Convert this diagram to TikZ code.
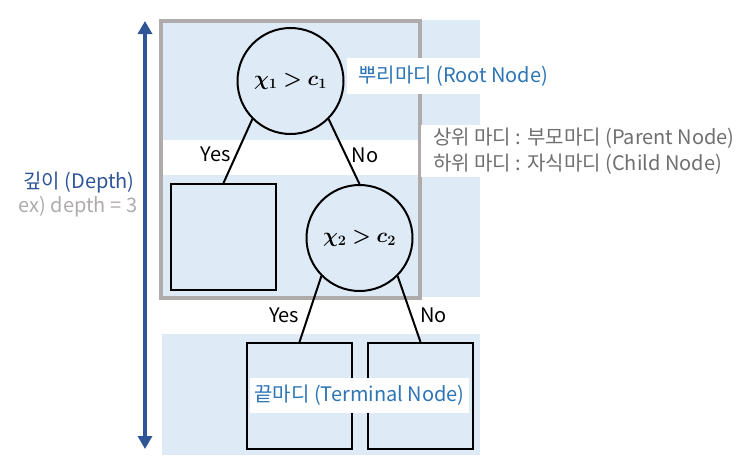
\documentclass[tikz,border=0pt]{standalone}
\usepackage{fontspec}
\setmainfont{Noto Sans CJK KR}
\usepackage{amsmath,bm}
\usetikzlibrary{positioning,arrows.meta}
\definecolor{bandblue}{HTML}{DEEBF7}
\definecolor{boxgray}{HTML}{AFABAB}
\definecolor{depthblue}{HTML}{2F5597}
\definecolor{rootblue}{HTML}{2E75B6}
\definecolor{notegray}{HTML}{6F6F6F}
\newcommand{\lblfont}{\fontsize{20}{26}\selectfont}
\tikzset{
  band/.style={fill=bandblue},
  grpbox/.style={draw=boxgray,line width=4pt},
  split/.style={circle,draw,line width=2pt,minimum size=106pt,inner sep=0pt,
    font=\fontsize{21.5}{24}\selectfont},
  leaf/.style={draw,line width=2pt,minimum width=105pt,minimum height=106pt,inner sep=0pt},
  branch/.style={line width=2pt},
  yn/.style={font=\lblfont,inner sep=5pt},
  depthar/.style={{Triangle[width=14pt,length=13pt]}-{Triangle[width=14pt,length=13pt]},
    line width=4pt,depthblue},
  wlbl/.style={fill=white,font=\lblfont},
}

\begin{document}
\begin{tikzpicture}[x=1pt,y=-1pt]
  \useasboundingbox (0,0) rectangle (752,463);
  % background bands, one per depth level
  \fill[band] (162,20) rectangle (480,140);
  \fill[band] (162,175) rectangle (480,297);
  \fill[band] (162,334) rectangle (480,455);
  \draw[grpbox] (161,21) rectangle (420,298);

  \node[split] (root) at (290.5,81) {$\bm{\chi_1 > c_1}$};
  \node[leaf] (leafL) at (223.5,237) {};
  \node[split] (cnode) at (359.5,238) {$\bm{\chi_2 > c_2}$};
  \node[leaf] (leafA) at (299.5,396) {};
  \node[leaf] (leafB) at (420.5,396) {};

  \draw[branch] (root.225) -- (leafL.north) node[yn,pos=0.55,left]{Yes};
  \draw[branch] (root.315) -- (cnode.north) node[yn,pos=0.55,right]{No};
  \draw[branch] (cnode.225) -- (leafA.north) node[yn,pos=0.6,left,inner sep=8pt]{Yes};
  \draw[branch] (cnode.315) -- (leafB.north) node[yn,pos=0.6,right,inner sep=8pt]{No};

  \node[wlbl,text=rootblue,anchor=west,inner xsep=11pt,minimum height=36pt] (rootlbl) at (347,76) {뿌리마디 (Root Node)};
  \node[wlbl,text=notegray,anchor=west,align=left,inner xsep=12pt,inner ysep=3pt] (pclbl) at (421,151)
    {상위 마디 : 부모마디 (Parent Node)\\하위 마디 : 자식마디 (Child Node)};
  \node[wlbl,text=rootblue,inner xsep=4pt,minimum height=35pt] (termlbl) at (359.5,395) {끝마디 (Terminal Node)};

  \coordinate (dtop) at (145,21);
  \coordinate (dbot) at (145,449);
  \draw[depthar] (dbot) -- (dtop);
  \node[font=\lblfont,text=depthblue] (dlbl) at (79,183) {깊이 (Depth)};
  \node[font=\lblfont,text=boxgray] (dex) at (78,207) {ex) depth = 3};
\end{tikzpicture}
\end{document}
